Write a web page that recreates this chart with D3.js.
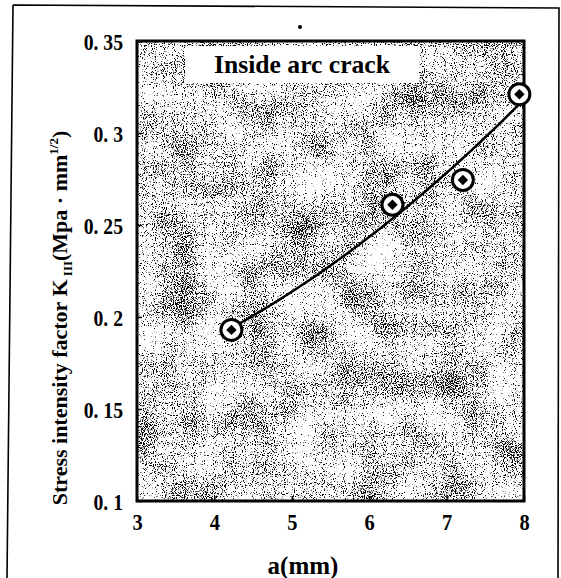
<!DOCTYPE html>
<html>
<head>
<meta charset="utf-8">
<script src="https://cdn.jsdelivr.net/npm/d3@7"></script>
<style>
  body { margin: 0; background: #fff; }
  svg { display: block; }
  text { font-family: "Liberation Serif", "Times New Roman", serif; font-weight: bold; fill: #000; }
</style>
</head>
<body>
<script>
// crack length a (mm) and stress intensity factor K_III
var crackLength = [4.22, 6.30, 7.21, 7.94];
var stressFactor = [0.193, 0.261, 0.2745, 0.321];
var xTicks = [3, 4, 5, 6, 7, 8];
var yTicks = [0.1, 0.15, 0.2, 0.25, 0.3, 0.35];

var width = 561, height = 578;
var plot = {left: 137, right: 524, top: 41, bottom: 501};

var svg = d3.select("body").append("svg")
  .attr("width", width)
  .attr("height", height);

var x = d3.scaleLinear().domain([3, 8]).range([plot.left, plot.right]);
var y = d3.scaleLinear().domain([0.1, 0.35]).range([plot.bottom, plot.top]);

// halftone stipple: fine grain mixed with a coarse density map
var defs = svg.append("defs");
var f = defs.append("filter").attr("id", "stipple")
  .attr("x", 0).attr("y", 0).attr("width", 1).attr("height", 1)
  .attr("color-interpolation-filters", "sRGB");
f.append("feTurbulence").attr("type", "fractalNoise")
  .attr("baseFrequency", 0.9).attr("numOctaves", 1).attr("seed", 3).attr("result", "fineN");
f.append("feColorMatrix").attr("in", "fineN").attr("type", "matrix")
  .attr("values", "0 0 0 0 0  0 0 0 0 0  0 0 0 0 0  1 0 0 0 0").attr("result", "fine");
f.append("feTurbulence").attr("type", "fractalNoise")
  .attr("baseFrequency", 0.025).attr("numOctaves", 2).attr("seed", 8).attr("result", "coarseN");
f.append("feColorMatrix").attr("in", "coarseN").attr("type", "matrix")
  .attr("values", "0 0 0 0 0  0 0 0 0 0  0 0 0 0 0  1 0 0 0 0").attr("result", "coarse");
f.append("feComposite").attr("in", "fine").attr("in2", "coarse").attr("operator", "arithmetic")
  .attr("k1", 0).attr("k2", 0.75).attr("k3", 0.25).attr("k4", 0).attr("result", "mix");
var ct = f.append("feComponentTransfer").attr("in", "mix");
ct.append("feFuncA").attr("type", "linear").attr("slope", -14).attr("intercept", 14 * 0.455);

// outer frame of the figure
svg.append("path")
  .attr("d", "M13,5 L559,8 L558,578 M13,5 L7,578")
  .attr("fill", "none").attr("stroke", "#000").attr("stroke-width", 1.6);
svg.append("circle").attr("cx", 300).attr("cy", 27).attr("r", 2).attr("fill", "#000");

// plot background
svg.append("rect")
  .attr("x", plot.left).attr("y", plot.top)
  .attr("width", plot.right - plot.left).attr("height", plot.bottom - plot.top)
  .attr("fill", "#fff");
svg.append("rect")
  .attr("x", plot.left).attr("y", plot.top)
  .attr("width", plot.right - plot.left).attr("height", plot.bottom - plot.top)
  .attr("fill", "#fff")
  .attr("filter", "url(#stipple)");

// label box
svg.append("rect").attr("x", 185).attr("y", 46).attr("width", 234).attr("height", 37).attr("fill", "#fff");
svg.append("text").attr("x", 302).attr("y", 73)
  .attr("text-anchor", "middle").attr("font-size", 26)
  .attr("textLength", 176).attr("lengthAdjust", "spacingAndGlyphs")
  .text("Inside arc crack");

// axes
var fmt = function(d) { return d3.format(".2~f")(d).replace(".", ". "); };

var gy = svg.append("g")
  .attr("transform", "translate(" + plot.left + ",0)")
  .call(d3.axisLeft(y).tickValues(yTicks).tickSize(-5).tickPadding(14).tickFormat(fmt));
gy.select(".domain").remove();
gy.selectAll("line").attr("stroke", "#000").attr("stroke-width", 1.5);
gy.selectAll("text")
  .attr("font-size", 24).attr("font-family", null)
  .attr("x", 0).attr("dy", "0.35em")
  .attr("transform", "translate(-14,0) scale(0.82,1)");

var gx = svg.append("g")
  .attr("transform", "translate(0," + plot.bottom + ")")
  .call(d3.axisBottom(x).tickValues(xTicks).tickSize(-5).tickPadding(12).tickFormat(d3.format("d")));
gx.select(".domain").remove();
gx.selectAll("line").attr("stroke", "#000").attr("stroke-width", 1.5);
gx.selectAll("text").attr("font-size", 24).attr("font-family", null)
  .attr("transform", "scale(0.85,1)");

// plot border
svg.append("rect")
  .attr("x", plot.left).attr("y", plot.top)
  .attr("width", plot.right - plot.left).attr("height", plot.bottom - plot.top)
  .attr("fill", "none").attr("stroke", "#000").attr("stroke-width", 3);

// quadratic trend line fitted to the points (least squares)
function quadFit(xs, ys) {
  var n = xs.length, s = [0, 0, 0, 0, 0], t = [0, 0, 0];
  for (var i = 0; i < n; i++) {
    var p = 1;
    for (var k = 0; k < 5; k++) { s[k] += p; if (k < 3) t[k] += p * ys[i]; p *= xs[i]; }
  }
  var A = [[s[0], s[1], s[2], t[0]], [s[1], s[2], s[3], t[1]], [s[2], s[3], s[4], t[2]]];
  for (var c = 0; c < 3; c++) {
    for (var r = c + 1; r < 3; r++) {
      var m = A[r][c] / A[c][c];
      for (var j = c; j < 4; j++) A[r][j] -= m * A[c][j];
    }
  }
  var b = [0, 0, 0];
  for (var r2 = 2; r2 >= 0; r2--) {
    var v = A[r2][3];
    for (var j2 = r2 + 1; j2 < 3; j2++) v -= A[r2][j2] * b[j2];
    b[r2] = v / A[r2][r2];
  }
  return function(v) { return b[0] + b[1] * v + b[2] * v * v; };
}
var fit = quadFit(crackLength, stressFactor);
var xs = d3.range(60).map(function(i) {
  return crackLength[0] + (crackLength[crackLength.length - 1] - crackLength[0]) * i / 59;
});
svg.append("path")
  .datum(xs)
  .attr("fill", "none").attr("stroke", "#000").attr("stroke-width", 2.5)
  .attr("d", d3.line().x(function(d) { return x(d); }).y(function(d) { return y(fit(d)); }));

// markers
var pts = svg.selectAll(".pt").data(crackLength).enter().append("g")
  .attr("class", "pt")
  .attr("transform", function(d, i) { return "translate(" + x(d) + "," + y(stressFactor[i]) + ")"; });
pts.append("circle").attr("r", 10.5).attr("fill", "#fff").attr("stroke", "#000").attr("stroke-width", 3);
pts.append("path").attr("d", d3.symbol(d3.symbolSquare, 55)).attr("transform", "rotate(45)").attr("fill", "#000");

// axis titles
svg.append("text").attr("x", 303).attr("y", 574)
  .attr("text-anchor", "middle").attr("font-size", 25)
  .text("a(mm)");

var yt = svg.append("text")
  .attr("transform", "translate(67,318) rotate(-90)")
  .attr("text-anchor", "middle").attr("font-size", 22);
yt.append("tspan").text("Stress intensity factor K");
yt.append("tspan").attr("font-size", 13).attr("dy", 5).text(" III");
yt.append("tspan").attr("dy", -5).text("(Mpa \u00b7 mm");
yt.append("tspan").attr("font-size", 13).attr("dy", -9).text("1/2");
yt.append("tspan").attr("dy", 9).text(")");
</script>
</body>
</html>
